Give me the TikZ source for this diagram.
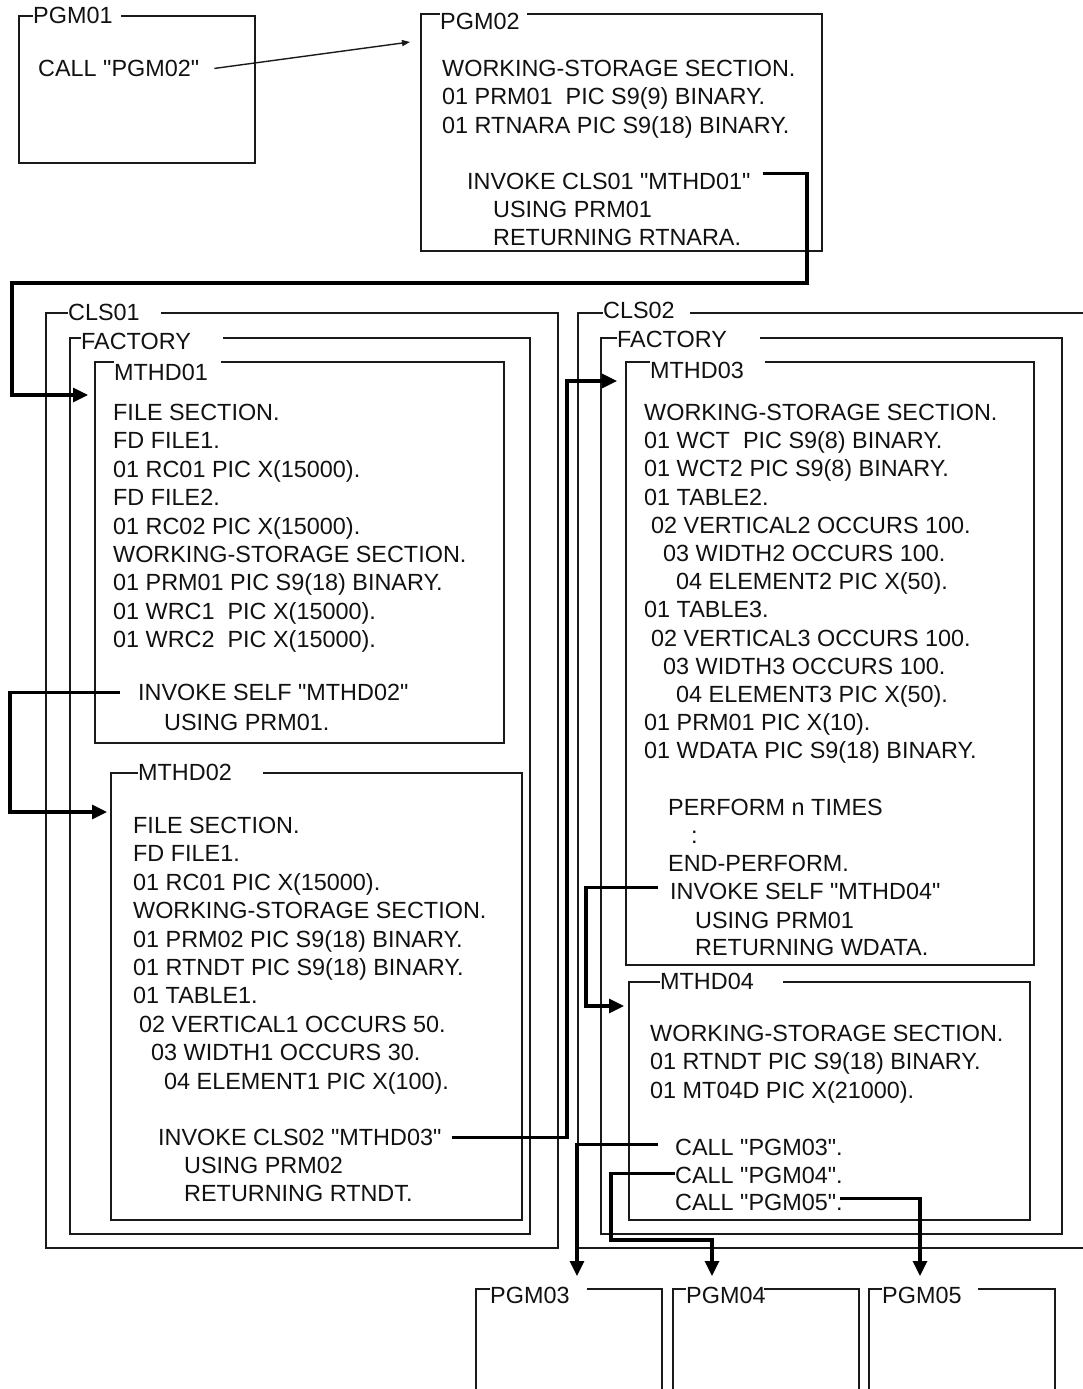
\documentclass[tikz,border=0pt]{standalone}
\usepackage{fontspec}
\newfontfamily\codefont{Liberation Sans}
\usepackage{tikz}
\usetikzlibrary{arrows.meta}
\definecolor{frameInk}{HTML}{1A1A1A}
\definecolor{codeInk}{HTML}{111111}
\tikzset{
  frameLine/.style={frameInk,line width=1.4pt},
  callLine/.style={black,line width=3.2pt,-{Triangle[length=15pt,width=14pt]}},
  thinCall/.style={frameInk,line width=1.4pt,-{Triangle[length=8pt,width=6pt]}},
  code/.style={anchor=base west,inner sep=0pt,text=codeInk,font=\codefont\fontsize{23.4}{28}\selectfont}
}

\begin{document}
\begin{tikzpicture}[x=1pt,y=-1pt]
\useasboundingbox (0,0) rectangle (1083,1389);

% PGM01
\draw[frameLine] (121,16) -| (255,163) -| (19,16) -- (33,16);
\node[code] (pgm01) at (33,23.5) {PGM01};
\node[code] (callPgm02) at (38,76.5) {CALL "PGM02"};

% PGM02
\draw[frameLine] (527,14) -| (822,251) -| (421,14) -- (440,14);
\node[code] (pgm02) at (440,29.5) {PGM02};
\foreach \t [count=\i] in {WORKING-STORAGE SECTION., 01 PRM01 \ PIC S9(9) BINARY., 01 RTNARA PIC S9(18) BINARY.}
  \node[code] (pTwo\i) at (442,{48.1+28.4*\i}) {\t};
\node[code] (invCls01) at (467,189.5) {INVOKE CLS01 "MTHD01"};
\node[code] (usePrm01) at (493,217.5) {USING PRM01};
\node[code] (retRtnara) at (493,245.5) {RETURNING RTNARA.};
\coordinate (pgm02in) at (410,42);

% CLS01 / FACTORY / MTHD01 / MTHD02
\draw[frameLine] (161,313) -| (558,1248) -| (46,313) -- (68,313);
\node[code] (cls01) at (68,320.5) {CLS01};
\draw[frameLine] (223,338) -| (530,1234) -| (70,338) -- (81,338);
\node[code] (factory01) at (81,349.5) {FACTORY};

\draw[frameLine] (221,362) -| (504,743) -| (95,362) -- (114,362);
\node[code] (mthd01) at (114,380) {MTHD01};
\foreach \t [count=\i] in {FILE SECTION., FD FILE1., 01 RC01 PIC X(15000)., FD FILE2., 01 RC02 PIC X(15000)., WORKING-STORAGE SECTION., 01 PRM01 PIC S9(18) BINARY., 01 WRC1 \ PIC X(15000)., 01 WRC2 \ PIC X(15000).}
  \node[code] (mOne\i) at (113,{392.1+28.4*\i}) {\t};
\node[code] (invSelf02) at (138,700.5) {INVOKE SELF "MTHD02"};
\node[code] (usePrm01b) at (164,730.5) {USING PRM01.};
\coordinate (mthd01in) at (88,395);

\draw[frameLine] (263,773) -| (522,1220) -| (111,773) -- (138,773);
\node[code] (mthd02) at (138,780.5) {MTHD02};
\foreach \x/\t [count=\i] in {133/FILE SECTION., 133/FD FILE1., 133/01 RC01 PIC X(15000)., 133/WORKING-STORAGE SECTION., 133/01 PRM02 PIC S9(18) BINARY., 133/01 RTNDT PIC S9(18) BINARY., 133/01 TABLE1., 139/02 VERTICAL1 OCCURS 50., 151/03 WIDTH1 OCCURS 30., 164/04 ELEMENT1 PIC X(100).}
  \node[code] (mTwo\i) at (\x,{805.1+28.4*\i}) {\t};
\node[code] (invCls02) at (158,1145.5) {INVOKE CLS02 "MTHD03"};
\node[code] (usePrm02) at (184,1173.5) {USING PRM02};
\node[code] (retRtndt) at (184,1201.5) {RETURNING RTNDT.};
\coordinate (mthd02in) at (107,812);

% CLS02 / FACTORY / MTHD03 / MTHD04
\draw[frameLine] (690,313) -- (1090,313);
\draw[frameLine] (1090,1248) -| (578,313) -- (603,313);
\node[code] (cls02) at (603,318.5) {CLS02};
\draw[frameLine] (760,338) -| (1062,1234) -| (601,338) -- (617,338);
\node[code] (factory02) at (617,347.5) {FACTORY};

\draw[frameLine] (765,362) -| (1034,965) -| (626,362) -- (650,362);
\node[code] (mthd03) at (650,378.5) {MTHD03};
\foreach \x/\t [count=\i] in {644/WORKING-STORAGE SECTION., 644/01 WCT \ PIC S9(8) BINARY., 644/01 WCT2 PIC S9(8) BINARY., 644/01 TABLE2., 651/02 VERTICAL2 OCCURS 100., 663/03 WIDTH2 OCCURS 100., 676/04 ELEMENT2 PIC X(50)., 644/01 TABLE3., 651/02 VERTICAL3 OCCURS 100., 663/03 WIDTH3 OCCURS 100., 676/04 ELEMENT3 PIC X(50)., 644/01 PRM01 PIC X(10)., 644/01 WDATA PIC S9(18) BINARY.}
  \node[code] (mThree\i) at (\x,{392.3+28.2*\i}) {\t};
\node[code] (perform) at (668,815.5) {PERFORM n TIMES};
\node[code] (dots) at (691,843) {:};
\node[code] (endPerform) at (668,871.5) {END-PERFORM.};
\node[code] (invSelf04) at (670,899.5) {INVOKE SELF "MTHD04"};
\node[code] (usePrm01c) at (695,928.5) {USING PRM01};
\node[code] (retWdata) at (695,955.5) {RETURNING WDATA.};
\coordinate (mthd03in) at (617,381);

\draw[frameLine] (783,982) -| (1030,1220) -| (629,982) -- (660,982);
\node[code] (mthd04) at (660,989.5) {MTHD04};
\foreach \t [count=\i] in {WORKING-STORAGE SECTION., 01 RTNDT PIC S9(18) BINARY., 01 MT04D PIC X(21000).}
  \node[code] (mFour\i) at (650,{1013.1+28.4*\i}) {\t};
\node[code] (call03) at (675,1155.5) {CALL "PGM03".};
\node[code] (call04) at (675,1183.5) {CALL "PGM04".};
\node[code] (call05) at (675,1210.5) {CALL "PGM05".};
\coordinate (mthd04in) at (624,1006);

% PGM03 - PGM05
\draw[frameLine] (587,1289) -| (662,1400);
\draw[frameLine] (476,1400) |- (490,1289);
\node[code] (pgm03) at (490,1303) {PGM03};
\draw[frameLine] (764,1289) -| (859,1400);
\draw[frameLine] (673,1400) |- (686,1289);
\node[code] (pgm04) at (686,1303) {PGM04};
\draw[frameLine] (978,1289) -| (1055,1400);
\draw[frameLine] (869,1400) |- (882,1289);
\node[code] (pgm05) at (882,1303) {PGM05};
\coordinate (pgm03in) at (577,1276);
\coordinate (pgm04in) at (712,1276);
\coordinate (pgm05in) at (920,1276);

% calls
\draw[thinCall] ([xshift=15pt]callPgm02.east) -- (pgm02in);
\draw[callLine] ([xshift=12pt,yshift=8pt]invCls01.east) -| (807,283) -- (12,283) |- (mthd01in);
\draw[callLine] ([xshift=-18pt]invSelf02.west) -| (10,812) -- (mthd02in);
\draw[callLine] ([xshift=10pt]invCls02.east) -| (567,381) -- (mthd03in);
\draw[callLine] ([xshift=-12pt,yshift=4pt]invSelf04.west) -| (586,1006) -- (mthd04in);
\draw[callLine] ([xshift=-17pt,yshift=3pt]call03.west) -| (pgm03in);
\draw[callLine] ([yshift=2pt]call04.west) -| (611,1240) -| (pgm04in);
\draw[callLine] ([xshift=-3pt,yshift=4pt]call05.east) -| (pgm05in);
\end{tikzpicture}
\end{document}
